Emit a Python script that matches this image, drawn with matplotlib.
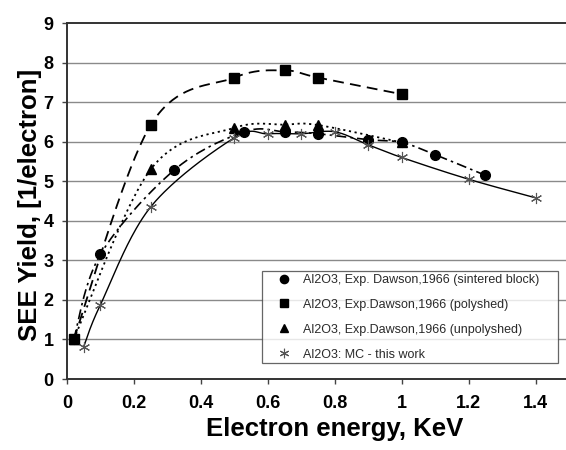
import numpy as np
import matplotlib
matplotlib.use("Agg")
import matplotlib.pyplot as plt

plt.rcParams['font.family'] = ['Liberation Sans', 'DejaVu Sans']

# Data (energy in KeV, SEE yield)
sint_x = [0.02, 0.10, 0.32, 0.53, 0.65, 0.75, 0.90, 1.00, 1.10, 1.25]
sint_y = [1.00, 3.15, 5.28, 6.25, 6.25, 6.20, 6.05, 5.98, 5.67, 5.15]

pol_x = [0.02, 0.25, 0.50, 0.65, 0.75, 1.00]
pol_y = [1.00, 6.42, 7.62, 7.80, 7.62, 7.20]

unpol_x = [0.02, 0.25, 0.50, 0.65, 0.75, 1.00]
unpol_y = [1.00, 5.30, 6.35, 6.43, 6.42, 5.98]

mc_x = [0.05, 0.10, 0.25, 0.50, 0.60, 0.70, 0.80, 0.90, 1.00, 1.20, 1.40]
mc_y = [0.82, 1.88, 4.35, 6.10, 6.20, 6.20, 6.25, 5.92, 5.60, 5.05, 4.58]

labels = ["Al2O3, Exp. Dawson,1966 (sintered block)",
          "Al2O3, Exp.Dawson,1966 (polyshed)",
          "Al2O3, Exp.Dawson,1966 (unpolyshed)",
          "Al2O3: MC - this work"]

x_ticks = [0, 0.2, 0.4, 0.6, 0.8, 1.0, 1.2, 1.4]
x_ticklabels = ["0", "0.2", "0.4", "0.6", "0.8", "1", "1.2", "1.4"]
y_ticks = list(range(0, 10))


def smooth(xs, ys, n=40):
    """Excel-style smoothed line (Bezier / Catmull-Rom)."""
    P = np.column_stack([xs, ys]).astype(float)
    m = len(P)
    out = []
    for i in range(m - 1):
        p0 = P[i - 1] if i > 0 else P[i]
        p1 = P[i]
        p2 = P[i + 1]
        p3 = P[i + 2] if i + 2 < m else P[i + 1]
        b1 = p1 + (p2 - p0) / 6.0
        b2 = p2 - (p3 - p1) / 6.0
        t = np.linspace(0, 1, n)[:, None]
        seg = ((1 - t) ** 3) * p1 + 3 * ((1 - t) ** 2) * t * b1 + 3 * (1 - t) * t ** 2 * b2 + t ** 3 * p2
        out.append(seg if i == 0 else seg[1:])
    c = np.vstack(out)
    return c[:, 0], c[:, 1]


W, H = 566, 450
fig = plt.figure(figsize=(W / 100, H / 100), dpi=100)
ax_l, ax_b, ax_t = 67, 379, 23
ax = fig.add_axes([ax_l / W, (H - ax_b) / H, 1 - ax_l / W, (ax_b - ax_t) / H])

px_per_x = 334.7
px_per_y = (ax_b - ax_t) / 9
ax.set_xlim(0, (W - ax_l) / px_per_x)
ax.set_ylim(0, 9)

for yv in range(1, 9):
    ax.axhline(yv, color='#8a8a8a', lw=1.0, zorder=0)

# lines
sx, sy = smooth(pol_x, pol_y)
ax.plot(sx, sy, color='black', lw=1.3, dashes=(6, 3.5), zorder=2)
sx, sy = smooth(unpol_x, unpol_y)
ax.plot(sx, sy, color='black', lw=1.3, dashes=(1.2, 2), zorder=2)
sx, sy = smooth(sint_x, sint_y)
ax.plot(sx, sy, color='black', lw=1.2, dashes=(6, 2.5, 1.5, 2.5), zorder=2)
sx, sy = smooth(mc_x, mc_y)
ax.plot(sx, sy, color='black', lw=1.0, zorder=2)

# markers
h_tri, = ax.plot(unpol_x, unpol_y, ls='none', marker='^', ms=7.5, color='black', zorder=3)
h_cir, = ax.plot(sint_x, sint_y, ls='none', marker='o', ms=7, color='black', zorder=4)
h_sq, = ax.plot(pol_x, pol_y, ls='none', marker='s', ms=7.5, color='black', zorder=5)
h_mc, = ax.plot(mc_x, mc_y, ls='none', marker=(6, 2, 0), ms=8, mew=0.8, color='#555555', zorder=6)

# legend box in pixel positions -> data coords
lg_l, lg_r, lg_t = 262, 558, 271
x0 = (lg_l - ax_l) / px_per_x
x1 = (lg_r - ax_l) / px_per_x
y1 = (ax_b - lg_t) / px_per_y
leg = ax.legend([h_cir, h_sq, h_tri, h_mc], labels, loc='upper left',
                bbox_to_anchor=(x0, 0, x1 - x0, y1), bbox_transform=ax.transData,
                mode='expand', frameon=True, fancybox=False, edgecolor='#404040',
                fontsize=9, handlelength=3.0, handletextpad=0.05, borderaxespad=0,
                labelspacing=1.03, borderpad=0.23, markerscale=0.85)
leg.get_frame().set_linewidth(0.9)
for t in leg.get_texts():
    t.set_color('#2a2a2a')

ax.set_xticks(x_ticks)
ax.set_xticklabels(x_ticklabels)
ax.set_yticks(y_ticks)
for lab in ax.get_xticklabels() + ax.get_yticklabels():
    lab.set_fontweight('bold')
    lab.set_fontsize(13)
ax.tick_params(axis='both', direction='out', length=3.8, width=1, color='#444444')
ax.tick_params(axis='x', pad=8)
ax.tick_params(axis='y', pad=6)

ax.spines['right'].set_visible(False)
for s in ['left', 'bottom', 'top']:
    ax.spines[s].set_color('#333333')
    ax.spines[s].set_linewidth(1.4)

ax.set_xlabel("Electron energy, KeV", fontsize=18.5, fontweight='bold')
ax.set_ylabel("SEE Yield, [1/electron]", fontsize=18.5, fontweight='bold', va='center')
ax.xaxis.set_label_coords((335 - ax_l) / (W - ax_l), -(417 - ax_b) / (ax_b - ax_t))
ax.yaxis.set_label_coords((30 - ax_l) / (W - ax_l), 0.49)

fig.savefig("out.png", dpi=100)
